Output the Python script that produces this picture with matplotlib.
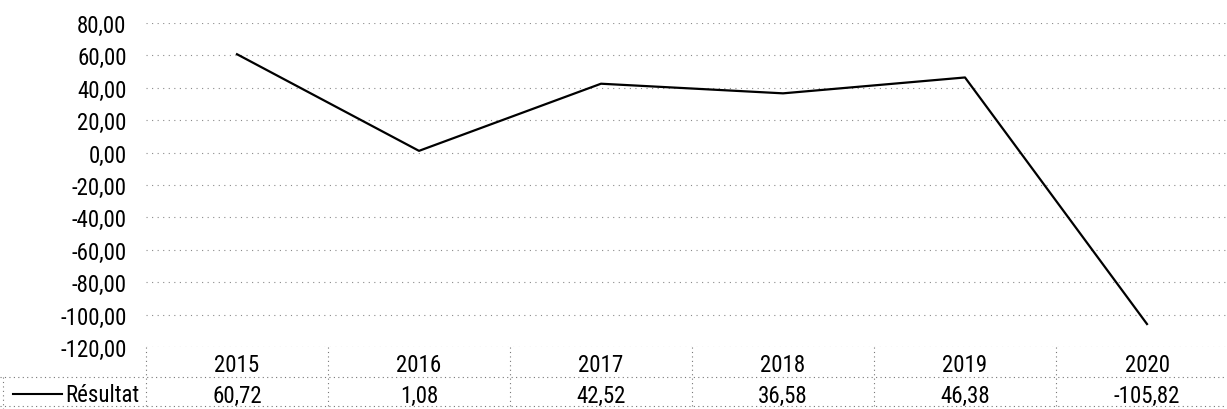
import matplotlib.pyplot as plt
import numpy as np

# --- DATOS ---
annees = ['2015', '2016', '2017', '2018', '2019', '2020']
resultat = [60.72, 1.08, 42.52, 36.58, 46.38, -105.82]
serie_nom = 'Résultat'
y_ticks = [80, 60, 40, 20, 0, -20, -40, -60, -80, -100, -120]

plt.rcParams['font.family'] = ['Roboto Condensed', 'Archivo Narrow', 'Liberation Sans', 'DejaVu Sans']
TAILLE = 16.5

W, H = 1227, 410
fig = plt.figure(figsize=(W / 100, H / 100), dpi=100)

# zone du graphique (en pixels de l'image)
x0, x1 = 146, 1238
y_top, y_bot = 24, 348
ax = fig.add_axes([x0 / W, 1 - y_bot / H, (x1 - x0) / W, (y_bot - y_top) / H])

x = np.arange(len(annees))
ax.plot(x, resultat, color='black', lw=1.6, zorder=3)

ax.set_xlim(-0.5, len(annees) - 0.5)
ax.set_ylim(-120, 80)
ax.set_yticks(y_ticks)
ax.set_yticklabels([f"{v:.2f}".replace('.', ',') for v in y_ticks])
ax.set_xticks([])
ax.tick_params(axis='y', length=0, labelsize=TAILLE, pad=14)
for s in ax.spines.values():
    s.set_visible(False)
for v in y_ticks:
    ax.axhline(v, color='#8a8a8a', lw=0.8, linestyle=(0, (1, 4)), zorder=1)

# --- TABLEAU DE DONNEES ---
def fx(px):
    return px / W

def fy(py):
    return 1 - py / H

pointille = dict(color='#777777', lw=0.8, linestyle=(0, (1, 3)))
ligne_sep = 378
fig.add_artist(plt.Line2D([fx(0), 1], [fy(ligne_sep)] * 2, transform=fig.transFigure, **pointille))
fig.add_artist(plt.Line2D([fx(0), 1], [fy(407)] * 2, transform=fig.transFigure, **pointille))

col_w = (x1 - x0) / len(annees)
for i in range(len(annees) + 1):
    xb = x0 + i * col_w
    fig.add_artist(plt.Line2D([fx(xb)] * 2, [fy(y_bot), fy(410)], transform=fig.transFigure, **pointille))
fig.add_artist(plt.Line2D([fx(3)] * 2, [fy(ligne_sep), fy(410)], transform=fig.transFigure, **pointille))

for i, (a, v) in enumerate(zip(annees, resultat)):
    xc = x0 + (i + 0.5) * col_w
    fig.text(fx(xc), fy(366), a, ha='center', va='center', fontsize=TAILLE)
    fig.text(fx(xc), fy(396), f"{v:.2f}".replace('.', ','), ha='center', va='center', fontsize=TAILLE)

# légende
fig.add_artist(plt.Line2D([fx(13), fx(62)], [fy(395)] * 2, transform=fig.transFigure, color='black', lw=1.5))
fig.text(fx(139), fy(396), serie_nom, ha='right', va='center', fontsize=TAILLE)

fig.savefig('out.png', dpi=100)
